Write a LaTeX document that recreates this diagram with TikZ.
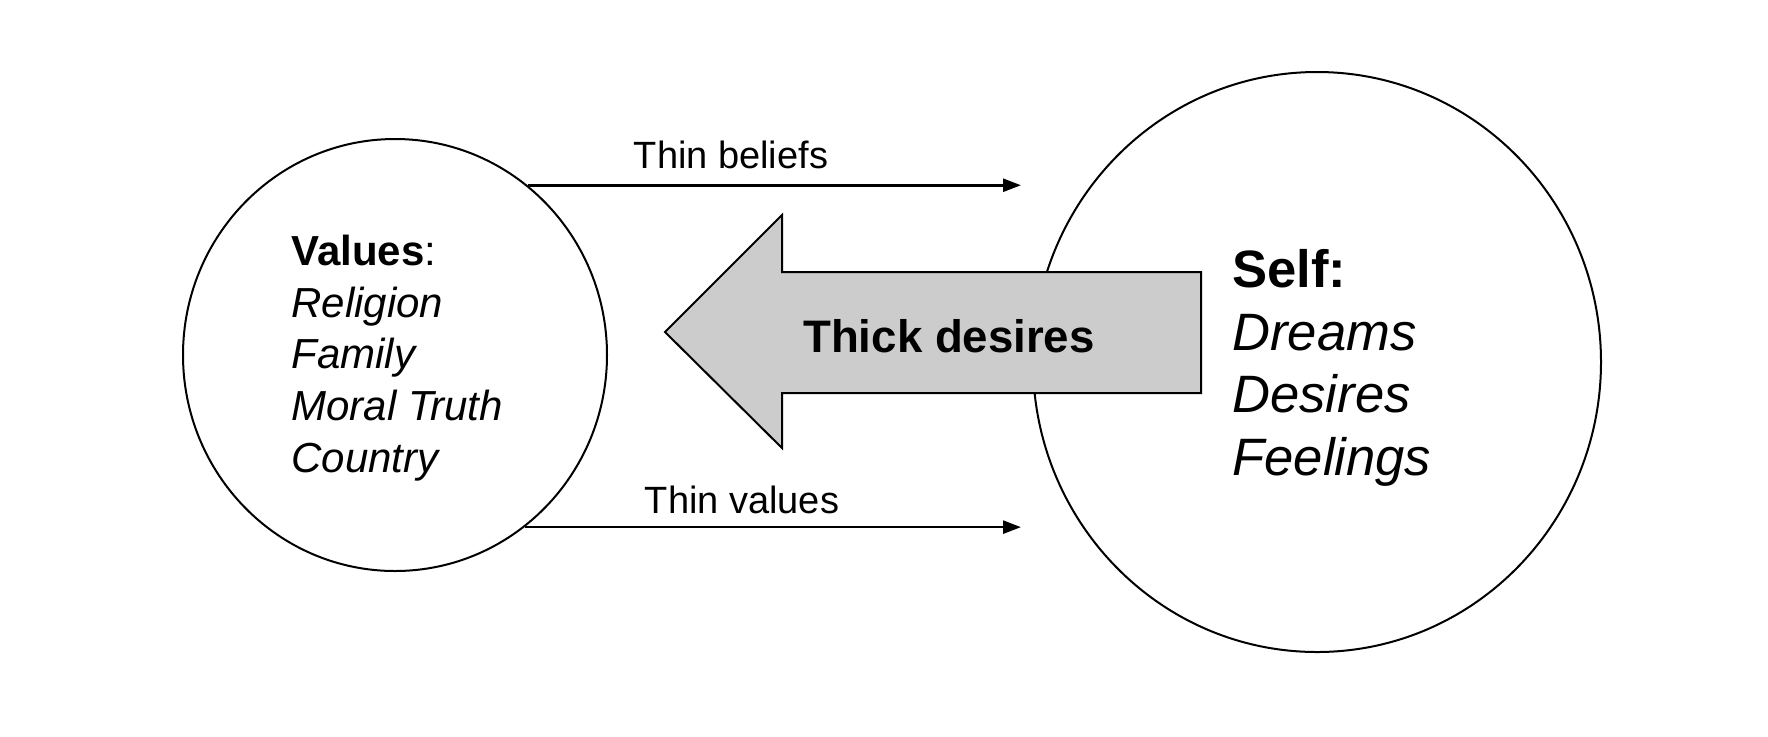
\documentclass[tikz,border=0pt]{standalone}
\usepackage{fontspec}
\setmainfont{Liberation Sans}
\usetikzlibrary{shapes.geometric,arrows.meta}
\definecolor{arrowgray}{HTML}{CCCCCC}
\tikzset{
  ring/.style={draw=black, line width=1pt, ellipse, inner sep=0pt},
  thinarrow/.style={draw=black, line width=1.3pt, -{Triangle[length=9pt,width=6.5pt]}},
  fatarrow/.style={draw=black, line width=1pt, fill=arrowgray, line join=miter},
  lefttext/.style={anchor=base west, inner sep=0pt, font=\fontsize{21}{25}\selectfont},
  righttext/.style={anchor=base west, inner sep=0pt, font=\fontsize{26.3}{31}\selectfont},
  labeltext/.style={anchor=base, inner sep=0pt, font=\fontsize{19}{23}\selectfont},
  thicktext/.style={anchor=base, inner sep=0pt, font=\bfseries\fontsize{22.8}{27}\selectfont}
}
\begin{document}
\begin{tikzpicture}[x=0.5pt,y=-0.5pt]
\useasboundingbox (0,0) rectangle (1768,736);
% circles
\node[ring, minimum width=212pt, minimum height=216pt] (L) at (395,355) {};
\node[ring, minimum width=284pt, minimum height=290pt] (R) at (1317,362) {};
% big arrow
\draw[fatarrow] (665,332) -- (782,215) -- (782,272) -- (1201,272) -- (1201,393) -- (782,393) -- (782,448) -- cycle;
\node[thicktext] (thick) at (949,352) {Thick desires};
% thin arrows
\coordinate (tipA) at (1021,185);
\coordinate (tipB) at (1021,527);
\draw[thinarrow] (L.52.4) -- (L.52.4 -| tipA);
\draw[thinarrow] (L.-53.8) -- (L.-53.8 -| tipB);
\node[labeltext] (beliefs) at (731,168) {Thin beliefs};
\node[labeltext] (values) at (742,513) {Thin values};
% left text
\node[lefttext] (v0) at (291,265) {\textbf{Values}:};
\node[lefttext] (v1) at (291,317) {\textit{Religion}};
\node[lefttext] (v2) at (291,368) {\textit{Family}};
\node[lefttext] (v3) at (291,420) {\textit{Moral Truth}};
\node[lefttext] (v4) at (291,472) {\textit{Country}};
% right text
\node[righttext] (s0) at (1232,287) {\textbf{Self:}};
\node[righttext] (s1) at (1232,350) {\textit{Dreams}};
\node[righttext] (s2) at (1232,412) {\textit{Desires}};
\node[righttext] (s3) at (1232,475) {\textit{Feelings}};
\end{tikzpicture}
\end{document}
